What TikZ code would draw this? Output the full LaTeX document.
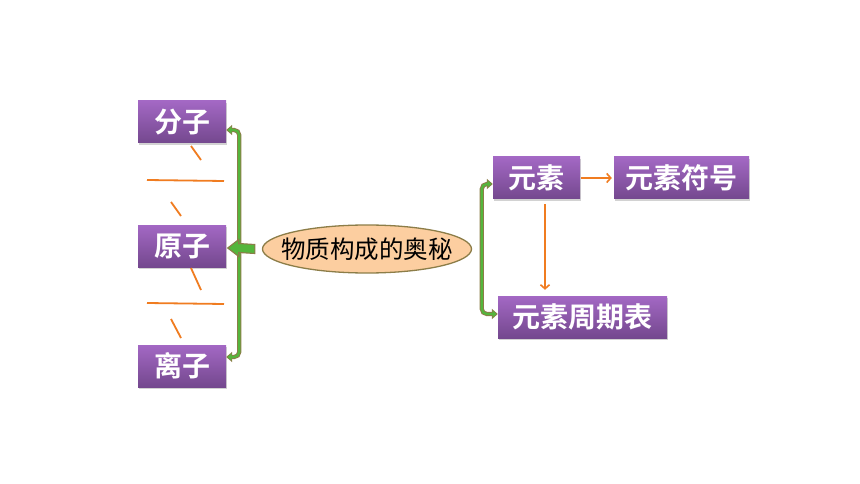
\documentclass[tikz,border=0pt]{standalone}
\usepackage{fontspec}
\newfontfamily\cjk{Noto Sans CJK SC}[BoldFont={Noto Sans CJK SC Bold}]
\usetikzlibrary{calc,shapes.geometric,arrows.meta,shadows}
\definecolor{purpT}{RGB}{163,104,196}
\definecolor{purpB}{RGB}{116,72,142}
\definecolor{peach}{RGB}{252,206,160}
\definecolor{olive}{RGB}{140,125,72}
\definecolor{lgreen}{RGB}{84,182,60}
\definecolor{orng}{RGB}{240,124,32}
\tikzset{
  pbox/.style={rectangle, inner sep=0pt, top color=purpT, bottom color=purpB,
    text=white, font=\cjk\bfseries\fontsize{28}{28}\selectfont,
    drop shadow={shadow xshift=1pt, shadow yshift=-2pt, fill=black!35, opacity=0.5},
    minimum height=42pt},
  oval/.style={ellipse, draw=olive, line width=1.3pt, fill=peach, inner sep=0pt,
    minimum width=209pt, minimum height=48pt, font=\cjk\fontsize{24.5}{24.5}\selectfont},
  brkO/.style={draw=olive, line width=4.2pt, rounded corners=5pt,
    {Triangle[length=6pt,width=10pt]}-{Triangle[length=6pt,width=10pt]}},
  brkI/.style={draw=lgreen, line width=2.2pt, rounded corners=5pt,
    {Triangle[length=4pt,width=6.5pt]}-{Triangle[length=4pt,width=6.5pt]},
    shorten <=1.3pt, shorten >=1.3pt},
  oarr/.style={draw=orng, line width=1.6pt, -{Straight Barb[length=4pt,width=9pt]}},
  oline/.style={draw=orng, line width=1.8pt}
}
\begin{document}
\begin{tikzpicture}[x=1pt,y=-1pt]
\useasboundingbox[fill=white] (0,0) rectangle (860,484);
% nodes
\node[pbox, minimum width=88pt] (fz) at (182,122) {分子};
\node[pbox, minimum width=88pt] (yz) at (182,246) {原子};
\node[pbox, minimum width=88pt] (lz) at (182,366) {离子};
\node[oval] (e) at (367,249) {\makebox[0pt]{物质构成的奥秘}};
\node[pbox, minimum width=87pt] (ys) at (536.5,178) {元素};
\node[pbox, minimum width=135pt] (fh) at (681.5,178) {元素符号};
\node[pbox, minimum width=169pt] (zq) at (582.5,317) {元素周期表};
% left bracket
\draw[brkO] ([yshift=-8pt]fz.east) -- ++(13,0) |- ([yshift=9pt]lz.east);
\draw[brkI] ([yshift=-8pt]fz.east) -- ++(13,0) |- ([yshift=9pt]lz.east);
% thick arrow from ellipse to 原子
\coordinate (tl) at ([xshift=-7pt]e.west);
\coordinate (tp) at ([xshift=1.5pt,yshift=-2pt]yz.east);
\draw[draw=olive, fill=lgreen, line width=1.1pt, line join=miter]
  ($(tl)+(0,-4.5)$) -- ($(tp)+(11,-4.5)$) -- ($(tp)+(11,-8.5)$) -- (tp)
  -- ($(tp)+(11,8.5)$) -- ($(tp)+(11,4.5)$) -- ($(tl)+(0,4.5)$) -- cycle;
% right bracket
\draw[brkO] ([yshift=-6pt]ys.west) -- ++(-11,0) |- ([yshift=3pt]zq.west);
\draw[brkI] ([yshift=-6pt]ys.west) -- ++(-11,0) |- ([yshift=3pt]zq.west);
% orange arrows
\draw[oarr] ([xshift=1pt]ys.east) -- ([xshift=-2pt]fh.west);
\draw[oarr] ([xshift=8.5pt,yshift=-5pt]ys.south) -- ([xshift=-37.5pt,yshift=6pt]zq.north);
% orange blanks
\draw[oline] (191,146) -- (201,160);
\draw[oline] (147,180) -- (224,181);
\draw[oline] (171,202) -- (181,216);
\draw[oline] (191,268) -- (201,290);
\draw[oline] (147,303) -- (224,304);
\draw[oline] (171,319) -- (181,338);
\end{tikzpicture}
\end{document}
